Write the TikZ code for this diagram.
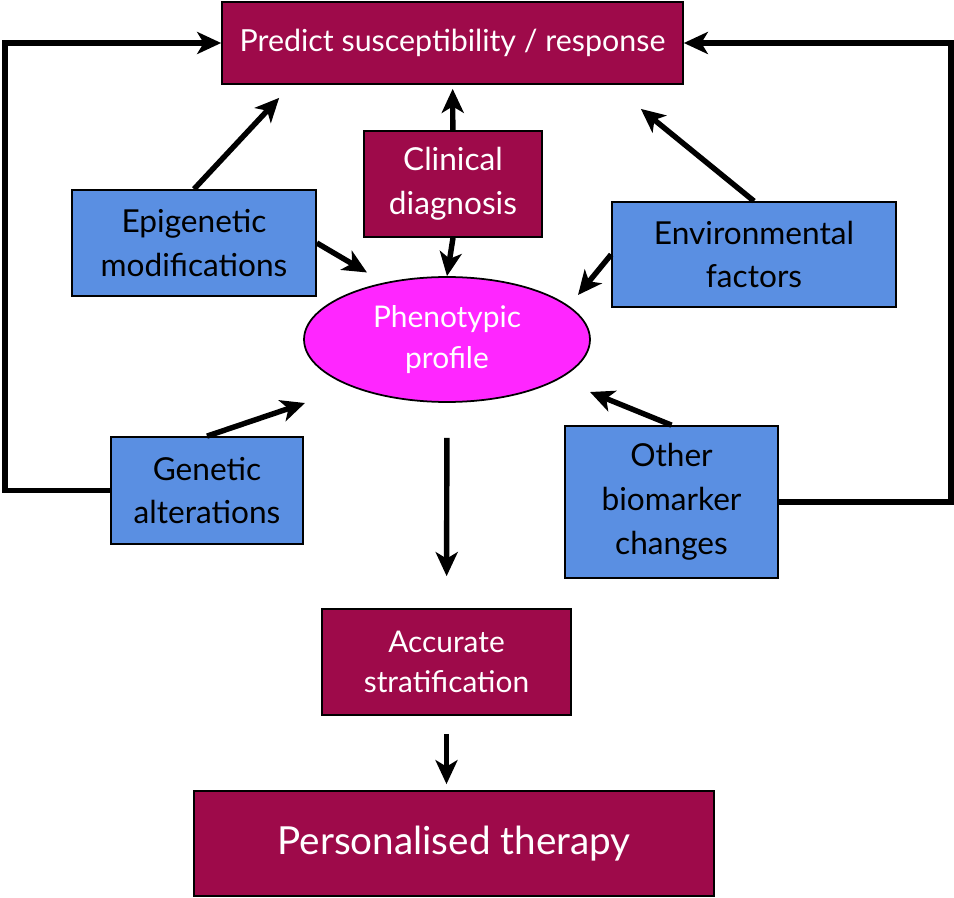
\documentclass[tikz,border=0pt]{standalone}
\usepackage{fontspec}
\setmainfont{Lato}
\usetikzlibrary{positioning, shapes, arrows.meta}

\definecolor{wine}{HTML}{9E0A4A}
\definecolor{skyblue}{HTML}{5A8FE2}
\definecolor{pinkish}{HTML}{FF26FF}

\begin{document}
\begin{tikzpicture}[x=0.02cm, y=-0.02cm,
  redbox/.style={draw=black, line width=1pt, fill=wine, text=white, align=center, inner sep=0pt},
  bluebox/.style={draw=black, line width=1pt, fill=skyblue, text=black, align=center, inner sep=0pt},
  arr/.style={line width=3.1pt, -{Stealth[length=4.8mm, width=4.4mm, inset=1.3mm]}}]
  \useasboundingbox (0,0) rectangle (954,898);
  \node[redbox, minimum width=9.22cm, minimum height=1.64cm, font=\fontsize{17.3}{20}\selectfont] (pred) at (452.5,43) {Predict susceptibility / response};
  \node[redbox, minimum width=3.56cm, minimum height=2.12cm, font=\fontsize{18}{25}\selectfont] (clin) at (453,184) {Clinical\\diagnosis};
  \node[bluebox, minimum width=4.88cm, minimum height=2.12cm, font=\fontsize{18}{25}\selectfont] (epi) at (194,243) {Epigenetic\\modifications};
  \node[bluebox, minimum width=5.68cm, minimum height=2.1cm, font=\fontsize{18}{25}\selectfont] (env) at (754,254.5) {Environmental\\factors};
  \node[ellipse, draw=black, line width=1pt, fill=pinkish, text=white, align=center, inner sep=0pt,
        minimum width=5.72cm, minimum height=2.5cm, font=\fontsize{17}{23}\selectfont] (phen) at (447,339.5) {Phenotypic\\profile};
  \node[bluebox, minimum width=3.84cm, minimum height=2.14cm, font=\fontsize{18}{25}\selectfont] (gen) at (207,490.5) {Genetic\\alterations};
  \node[bluebox, minimum width=4.26cm, minimum height=3.04cm, font=\fontsize{18}{25}\selectfont] (oth) at (671.5,502) {Other\\biomarker\\changes};
  \node[redbox, minimum width=4.98cm, minimum height=2.12cm, font=\fontsize{17}{23}\selectfont] (acc) at (446.5,662) {Accurate\\stratification};
  \node[redbox, minimum width=10.4cm, minimum height=2.1cm, font=\fontsize{22}{26}\selectfont] (pers) at (454,843.5) {Personalised therapy};
  % loops back to the top
  \draw[arr] (gen.west) -- ++(-105,0) |- (pred.west);
  \draw[arr] (oth.east) -- ++(172,0) |- (pred.east);
  % into the top box
  \draw[arr] (epi.north) -- ([shift={(58,13)}]pred.south west);
  \draw[arr, shorten >=0.08cm] (clin) -- (pred);
  \draw[arr] (env.north) -- ([shift={(-43,24)}]pred.south east);
  % into the profile
  \draw[arr] (epi.east) -- ([shift={(-80,-67)}]phen.center);
  \draw[arr] (clin.south) -- (phen.north);
  \draw[arr] (env.west) -- ([shift={(131,-44.5)}]phen.center);
  \draw[arr] (gen.north) -- ([shift={(-142,63.5)}]phen.center);
  \draw[arr] (oth.north) -- ([shift={(143,52.5)}]phen.center);
  % down to therapy
  \draw[arr, shorten <=0.7cm, shorten >=0.64cm] (phen) -- (acc);
  \draw[arr, shorten <=0.36cm, shorten >=0.12cm] (acc.south) -- (acc.south |- pers.north);
\end{tikzpicture}
\end{document}
